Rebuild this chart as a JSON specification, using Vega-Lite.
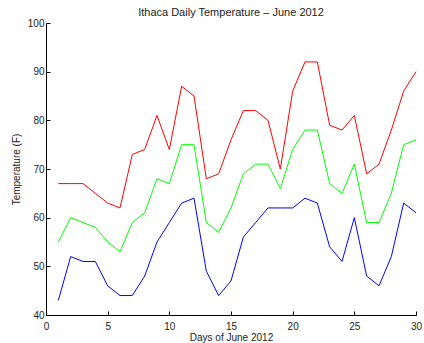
{
  "$schema": "https://vega.github.io/schema/vega-lite/v6.json",
  "autosize": "none",
  "width": 370,
  "height": 292,
  "padding": {"left": 46, "top": 23, "right": 8, "bottom": 28},
  "background": "white",
  "title": {"text": "Ithaca Daily Temperature – June 2012", "font": "Liberation Sans", "fontSize": 11, "fontWeight": "normal", "color": "#222", "offset": 0},
  "data": {"values": [
    {"day":1,"s":"High","t":67},{"day":2,"s":"High","t":67},{"day":3,"s":"High","t":67},{"day":4,"s":"High","t":65},{"day":5,"s":"High","t":63},{"day":6,"s":"High","t":62},{"day":7,"s":"High","t":73},{"day":8,"s":"High","t":74},{"day":9,"s":"High","t":81},{"day":10,"s":"High","t":74},{"day":11,"s":"High","t":87},{"day":12,"s":"High","t":85},{"day":13,"s":"High","t":68},{"day":14,"s":"High","t":69},{"day":15,"s":"High","t":76},{"day":16,"s":"High","t":82},{"day":17,"s":"High","t":82},{"day":18,"s":"High","t":80},{"day":19,"s":"High","t":70},{"day":20,"s":"High","t":86},{"day":21,"s":"High","t":92},{"day":22,"s":"High","t":92},{"day":23,"s":"High","t":79},{"day":24,"s":"High","t":78},{"day":25,"s":"High","t":81},{"day":26,"s":"High","t":69},{"day":27,"s":"High","t":71},{"day":28,"s":"High","t":78},{"day":29,"s":"High","t":86},{"day":30,"s":"High","t":90},
    {"day":1,"s":"Avg","t":55},{"day":2,"s":"Avg","t":60},{"day":3,"s":"Avg","t":59},{"day":4,"s":"Avg","t":58},{"day":5,"s":"Avg","t":55},{"day":6,"s":"Avg","t":53},{"day":7,"s":"Avg","t":59},{"day":8,"s":"Avg","t":61},{"day":9,"s":"Avg","t":68},{"day":10,"s":"Avg","t":67},{"day":11,"s":"Avg","t":75},{"day":12,"s":"Avg","t":75},{"day":13,"s":"Avg","t":59},{"day":14,"s":"Avg","t":57},{"day":15,"s":"Avg","t":62},{"day":16,"s":"Avg","t":69},{"day":17,"s":"Avg","t":71},{"day":18,"s":"Avg","t":71},{"day":19,"s":"Avg","t":66},{"day":20,"s":"Avg","t":74},{"day":21,"s":"Avg","t":78},{"day":22,"s":"Avg","t":78},{"day":23,"s":"Avg","t":67},{"day":24,"s":"Avg","t":65},{"day":25,"s":"Avg","t":71},{"day":26,"s":"Avg","t":59},{"day":27,"s":"Avg","t":59},{"day":28,"s":"Avg","t":65},{"day":29,"s":"Avg","t":75},{"day":30,"s":"Avg","t":76},
    {"day":1,"s":"Low","t":43},{"day":2,"s":"Low","t":52},{"day":3,"s":"Low","t":51},{"day":4,"s":"Low","t":51},{"day":5,"s":"Low","t":46},{"day":6,"s":"Low","t":44},{"day":7,"s":"Low","t":44},{"day":8,"s":"Low","t":48},{"day":9,"s":"Low","t":55},{"day":10,"s":"Low","t":59},{"day":11,"s":"Low","t":63},{"day":12,"s":"Low","t":64},{"day":13,"s":"Low","t":49},{"day":14,"s":"Low","t":44},{"day":15,"s":"Low","t":47},{"day":16,"s":"Low","t":56},{"day":17,"s":"Low","t":59},{"day":18,"s":"Low","t":62},{"day":19,"s":"Low","t":62},{"day":20,"s":"Low","t":62},{"day":21,"s":"Low","t":64},{"day":22,"s":"Low","t":63},{"day":23,"s":"Low","t":54},{"day":24,"s":"Low","t":51},{"day":25,"s":"Low","t":60},{"day":26,"s":"Low","t":48},{"day":27,"s":"Low","t":46},{"day":28,"s":"Low","t":52},{"day":29,"s":"Low","t":63},{"day":30,"s":"Low","t":61}
  ]},
  "mark": {"type": "line", "strokeWidth": 1},
  "encoding": {
    "x": {"field": "day", "type": "quantitative", "scale": {"domain": [0, 30], "nice": false},
      "axis": {"title": "Days of June 2012", "values": [0,5,10,15,20,25,30], "grid": false, "tickSize": -4, "labelPadding": 10, "titlePadding": 1, "domainColor": "#000", "tickColor": "#000", "labelColor": "#222", "titleColor": "#222", "labelFont": "Liberation Sans", "titleFont": "Liberation Sans", "labelFontSize": 10, "titleFontSize": 10, "titleFontWeight": "normal", "labelFlush": false}},
    "y": {"field": "t", "type": "quantitative", "scale": {"domain": [40, 100], "nice": false, "zero": false},
      "axis": {"title": "Temperature (F)", "values": [40,50,60,70,80,90,100], "grid": false, "tickSize": -4, "labelPadding": 6, "titlePadding": 6, "domainColor": "#000", "tickColor": "#000", "labelColor": "#222", "titleColor": "#222", "labelFont": "Liberation Sans", "titleFont": "Liberation Sans", "labelFontSize": 10, "titleFontSize": 10, "titleFontWeight": "normal", "labelFlush": false}},
    "color": {"field": "s", "type": "nominal", "scale": {"domain": ["High", "Avg", "Low"], "range": ["#ff0000", "#00ff00", "#0000ff"]}, "legend": null}
  },
  "config": {"view": {"stroke": null}}
}
